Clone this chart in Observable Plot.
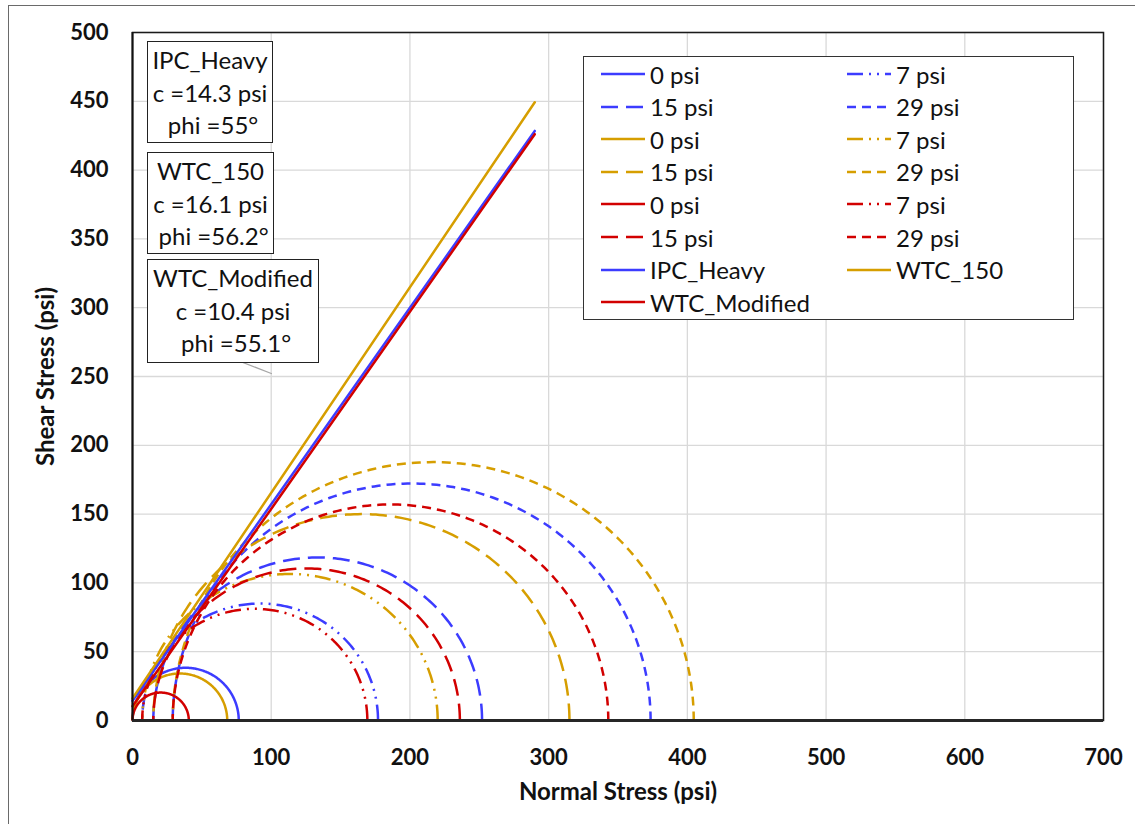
<!DOCTYPE html>
<html><head><meta charset="utf-8">
<script src="https://cdn.jsdelivr.net/npm/d3@7"></script>
<script src="https://cdn.jsdelivr.net/npm/@observablehq/plot@0.6"></script>
<style>
body{margin:0;background:#fff;font-family:Lato,sans-serif;}
#wrap{position:relative;width:1135px;height:824px;overflow:hidden;background:#fff;}
#wrap svg{position:absolute;left:0;top:0;}
#border{position:absolute;left:8px;top:5px;width:1300px;height:1000px;border:1.5px solid #6a6a6a;box-sizing:border-box;pointer-events:none;}
.box{position:absolute;background:#fff;border:1.5px solid #222;box-sizing:border-box;text-align:center;font-size:24px;color:#111;white-space:pre;}
.box div{height:32.5px;line-height:32.5px;}
#legend{position:absolute;left:583px;top:56px;width:491px;height:264px;background:#fff;border:1.5px solid #333;box-sizing:border-box;}
.item{position:absolute;height:33px;display:flex;align-items:center;font-size:24px;color:#111;white-space:nowrap;}
.item svg{position:static !important;margin-right:5px;}
</style></head>
<body><div id="wrap"></div>
<script>
// ---- data ----
const materials = ["IPC_Heavy", "WTC_150", "WTC_Modified"];
const materialColors = ["#3c3cff", "#d69e00", "#d20000"];
const confining = ["0 psi", "7 psi", "15 psi", "29 psi"];
const sigma3 = [0, 7, 15, 29];                    // minor principal stress (psi)
const sigma1IPC = [76.6, 177, 252, 373.5];        // major principal stress, IPC_Heavy
const sigma1WTC150 = [68.3, 220, 315, 404.6];     // WTC_150
const sigma1WTCMod = [40.6, 169.3, 236, 343];     // WTC_Modified
const cohesion = [14.3, 16.1, 10.4];              // psi
const phiDeg = [55, 56.2, 55.1];                  // degrees
const envelopeEnd = 290;                          // normal stress where envelopes end
const xTicks = [0, 100, 200, 300, 400, 500, 600, 700];
const yTicks = [0, 50, 100, 150, 200, 250, 300, 350, 400, 450, 500];
const leader = [{x1: 72.6, y1: 263, x2: 100.5, y2: 252}];

// ---- styling ----
const dashes = [null, "16,6,2,6,2,6", "17,8", "9,6"];
const sigma1All = [sigma1IPC, sigma1WTC150, sigma1WTCMod];

function semicircle(s3, s1) {
  const c = (s1 + s3) / 2, r = (s1 - s3) / 2;
  const pts = [];
  for (let i = 0; i <= 180; i++) {
    const a = Math.PI * i / 180;
    pts.push({x: c + r * Math.cos(a), y: r * Math.sin(a)});
  }
  return pts;
}

const marks = [
  Plot.gridX(xTicks, {stroke: "#d9d9d9", strokeOpacity: 1, strokeWidth: 1.3}),
  Plot.gridY(yTicks, {stroke: "#d9d9d9", strokeOpacity: 1, strokeWidth: 1.3}),
];
materials.forEach((m, mi) => {
  confining.forEach((p, pi) => {
    marks.push(Plot.line(semicircle(sigma3[pi], sigma1All[mi][pi]), {
      x: "x", y: "y", stroke: materialColors[mi], strokeWidth: 2.5,
      strokeDasharray: dashes[pi] || undefined, strokeLinecap: "butt", curve: "linear"
    }));
  });
});
materials.forEach((m, mi) => {
  const t = Math.tan(phiDeg[mi] * Math.PI / 180);
  marks.push(Plot.line([{x: 0, y: cohesion[mi]}, {x: envelopeEnd, y: cohesion[mi] + envelopeEnd * t}], {
    x: "x", y: "y", stroke: materialColors[mi], strokeWidth: 2.5
  }));
});
marks.push(
  Plot.link(leader, {x1: "x1", y1: "y1", x2: "x2", y2: "y2", stroke: "#a6a6a6", strokeWidth: 1.2}),
  Plot.frame({stroke: "#1a1a1a", strokeWidth: 1.5}),
  Plot.ruleY([0], {stroke: "#262626", strokeWidth: 3}),
  Plot.ruleX([0], {stroke: "#111", strokeWidth: 2}),
  Plot.axisX(xTicks, {tickSize: 0, tickPadding: 29, fontSize: 22, fontWeight: "bold", fill: "#111", label: null}),
  Plot.axisY(yTicks, {tickSize: 0, tickPadding: 24, fontSize: 22, fontWeight: "bold", fill: "#111", label: null}),
  Plot.text(["Normal Stress (psi)"], {frameAnchor: "bottom", dy: 72, lineAnchor: "middle", textAnchor: "middle", fontSize: 24, fontWeight: "bold", fill: "#111"}),
  Plot.text(["Shear Stress (psi)"], {frameAnchor: "left", dx: -86, rotate: -90, textAnchor: "middle", lineAnchor: "middle", fontSize: 24, fontWeight: "bold", fill: "#111"})
);

const chart = Plot.plot({
  width: 1135, height: 824,
  marginLeft: 132, marginRight: 32, marginTop: 32, marginBottom: 104,
  x: {domain: [0, 700]},
  y: {domain: [0, 500]},
  style: {fontFamily: "Lato, sans-serif", background: "transparent", overflow: "visible"},
  marks
});
const wrap = document.getElementById("wrap");
wrap.appendChild(chart);

// annotation boxes
const boxPos = [
  {left: 147, top: 41, width: 126, height: 102},
  {left: 147, top: 152, width: 127, height: 102},
  {left: 147, top: 259, width: 172, height: 104}
];
materials.forEach((m, mi) => {
  const b = document.createElement("div");
  b.className = "box";
  Object.assign(b.style, {left: boxPos[mi].left + "px", top: boxPos[mi].top + "px",
    width: boxPos[mi].width + "px", height: boxPos[mi].height + "px", paddingTop: "2px"});
  [m, `c =${cohesion[mi]} psi`, ` phi =${phiDeg[mi]}°`].forEach(t => {
    const d = document.createElement("div"); d.textContent = t; b.appendChild(d);
  });
  wrap.appendChild(b);
});

// legend
const legend = document.createElement("div");
legend.id = "legend";
const entries = [];
materials.forEach((m, mi) => confining.forEach((p, pi) => entries.push({label: p, color: materialColors[mi], dash: dashes[pi]})));
materials.forEach((m, mi) => entries.push({label: m, color: materialColors[mi], dash: null}));
entries.forEach((e, i) => {
  const row = Math.floor(i / 2), col = i % 2;
  const it = document.createElement("div");
  it.className = "item";
  it.style.left = (col === 0 ? 17 : 263) + "px";
  it.style.top = (0.5 + row * 32.6) + "px";
  it.innerHTML = `<svg width="44" height="6"><line x1="0" x2="44" y1="3" y2="3" stroke="${e.color}" stroke-width="2.5" ${e.dash ? `stroke-dasharray="${e.dash}"` : ""}/></svg>`;
  const s = document.createElement("span"); s.textContent = e.label; it.appendChild(s);
  legend.appendChild(it);
});
wrap.appendChild(legend);

const border = document.createElement("div");
border.id = "border";
wrap.appendChild(border);
</script>
</body></html>
